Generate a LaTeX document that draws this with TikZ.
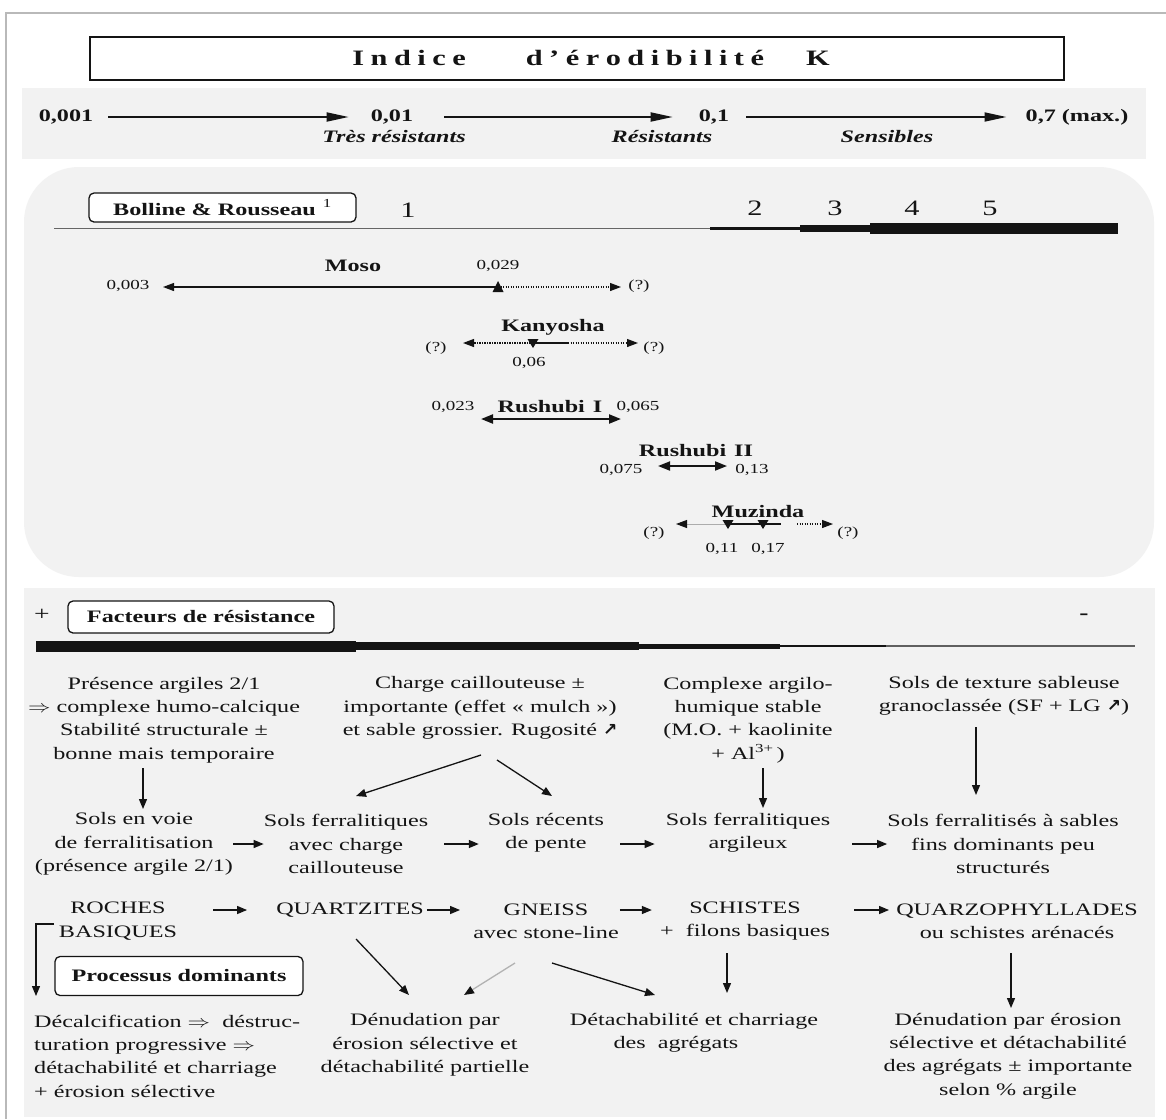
\documentclass[tikz,border=0pt]{standalone}
\usepackage{fontspec}
\usepackage{graphicx}
\setmainfont{Liberation Serif}[FakeStretch=1.38]
\newfontfamily\symf{DejaVu Sans}
\usetikzlibrary{arrows.meta}
\definecolor{panel}{HTML}{F2F2F2}
\definecolor{ink}{HTML}{141414}
\newcommand{\lsp}{\hspace{6.5pt}}
\newcommand{\nea}{{\symf\bfseries\fontsize{17}{17}\selectfont ↗}}
\newcommand{\impl}{\scalebox{1.3}[1]{$\Rightarrow$}}
\begin{document}
\begin{tikzpicture}[x=1pt,y=-1pt,
  every node/.style={inner sep=0pt, text=ink},
  txt/.style={font=\fontsize{17.5}{23.3}\selectfont, align=center},
  lab/.style={font=\bfseries\fontsize{17.5}{20}\selectfont},
  num/.style={font=\fontsize{13.8}{16}\selectfont},
  sc/.style={font=\bfseries\fontsize{17.5}{20}\selectfont},
  scit/.style={font=\bfseries\itshape\fontsize{17.5}{20}\selectfont},
  big/.style={font=\fontsize{22}{24}\selectfont},
  rbox/.style={draw=ink, rounded corners=5pt, line width=1.3pt, fill=white, font=\bfseries\fontsize{17.5}{20}\selectfont},
  arr/.style={draw=ink, line width=1.3pt, -{Triangle[length=10pt,width=8pt]}},
  sarr/.style={draw=ink, line width=1.2pt, -{Triangle[length=11pt,width=8pt]}},
  bigarr/.style={draw=ink, line width=1.8pt, -{Triangle[length=22pt,width=9pt]}},
  dots/.style={dash pattern=on 1.2pt off 1.3pt},
  darr/.style={draw=ink, {Triangle[length=12pt,width=9pt]}-{Triangle[length=12pt,width=9pt]}},
  seg/.style={draw=ink, line cap=butt}
]
\useasboundingbox (0,0) rectangle (1166,1119);
\fill[white] (0,0) rectangle (1166,1119);
\draw[gray!55, line width=1.3pt] (6,1119) -- (6,13) -- (1166,13);
\fill[panel] (22,88) rectangle (1146,159);
\fill[panel, rounded corners=55pt] (24,167) rectangle (1154,577);
\fill[panel] (24,588) rectangle (1155,1117);

% ---------- title ----------
\node[draw=ink, line width=2.3pt, minimum width=974pt, minimum height=43pt] (titlebox) at (577,58.5) {};
\node[font=\bfseries\fontsize{22}{24}\selectfont] (title) at (591,58)
  {I\lsp n\lsp d\lsp i\lsp c\lsp e\hspace{60pt}d\lsp ’\lsp é\lsp r\lsp o\lsp d\lsp i\lsp b\lsp i\lsp l\lsp i\lsp t\lsp é\hspace{42pt}K};

% ---------- scale ----------
\node[sc] (k1) at (66,117) {0,001};
\node[sc] (k2) at (392,117) {0,01};
\node[sc] (k3) at (714,117) {0,1};
\node[sc] (k4) at (1077,117) {0,7 (max.)};
\draw[bigarr, shorten <=15pt, shorten >=22pt] (k1) -- (k2);
\draw[bigarr, shorten <=31pt, shorten >=26pt] (k2) -- (k3);
\draw[bigarr, shorten <=17pt, shorten >=19pt] (k3) -- (k4);
\node[scit] (l1) at (394,137) {Très résistants};
\node[scit] (l2) at (662,137) {Résistants};
\node[scit] (l3) at (887,137) {Sensibles};

% ---------- Bolline & Rousseau ----------
\node[rbox, minimum width=267pt, minimum height=29pt] (br) at (222.5,207.5) {Bolline \& Rousseau\hspace{7pt}\raisebox{2pt}{\textsuperscript{\mdseries 1}}};
\node[big] (c1) at (408,210) {1};
\node[big] (c2) at (755,208) {2};
\node[big] (c3) at (835,208) {3};
\node[big] (c4) at (912,208) {4};
\node[big] (c5) at (990,208) {5};
\coordinate (s0) at (54,228);
\coordinate (s1) at (710,228);
\coordinate (s2) at (800,228);
\coordinate (s3) at (870,228);
\coordinate (s4) at (1118,228);
\draw[seg, draw=gray!80!black, line width=1pt] (s0) -- (s1);
\draw[seg, line width=3pt] (s1) -- (s2);
\draw[seg, line width=7pt] (s2) -- (s3);
\draw[seg, line width=11pt] (s3) -- (s4);

% Moso
\node[lab] (moso) at (353,266) {Moso};
\node[num] (m029) at (498,266) {0,029};
\node[num] (m003) at (128,286) {0,003};
\node[num] (mq) at (639,286) {(?)};
\coordinate (mk) at (498,287);
\coordinate (ml) at (163,287);
\coordinate (mr) at (621,287);
\draw[sarr] (mk) -- (ml);
\draw[sarr, dots] (mk) -- (mr);
\fill[ink] (492.5,292) -- (503.5,292) -- (498,281) -- cycle;

% Kanyosha
\node[lab] (kan) at (553,327) {Kanyosha};
\node[num] (kq1) at (436,348) {(?)};
\node[num] (kq2) at (654,348) {(?)};
\node[num] (k06) at (529,363) {0,06};
\coordinate (kk) at (533,343);
\coordinate (kl) at (463,343);
\coordinate (km) at (568,343);
\coordinate (kr) at (638,343);
\draw[sarr, dots] (kk) -- (kl);
\draw[draw=ink, line width=1.6pt] (kk) -- (km);
\draw[sarr, dots] (km) -- (kr);
\fill[ink] (527.5,339) -- (538.5,339) -- (533,348) -- cycle;

% Rushubi I
\node[lab] (r1) at (550,407) {Rushubi\hspace{8pt}I};
\node[num] (r1a) at (453,407) {0,023};
\node[num] (r1b) at (638,407) {0,065};
\coordinate (r1l) at (481,419);
\coordinate (r1r) at (621,419);
\draw[darr, line width=2.2pt] (r1l) -- (r1r);

% Rushubi II
\node[lab] (r2) at (696,451) {Rushubi\hspace{8pt}II};
\node[num] (r2a) at (621,470) {0,075};
\node[num] (r2b) at (752,470) {0,13};
\coordinate (r2l) at (658,466);
\coordinate (r2r) at (727,466);
\draw[darr, line width=1.8pt] (r2l) -- (r2r);

% Muzinda
\node[lab] (muz) at (758,512) {Muzinda};
\node[num] (zq1) at (654,533) {(?)};
\node[num] (zq2) at (848,533) {(?)};
\node[num] (z11) at (722,549) {0,11};
\node[num] (z17) at (768,549) {0,17};
\coordinate (zl) at (676,524);
\coordinate (za) at (728,524);
\coordinate (zb) at (781,524);
\coordinate (zc) at (797,524);
\coordinate (zr) at (833,524);
\draw[draw=gray!65, line width=1pt, -{Triangle[length=11pt,width=8pt,color=ink]}] (za) -- (zl);
\draw[draw=ink, line width=2pt] (za) -- (zb);
\draw[sarr, dots] (zc) -- (zr);
\fill[ink] (722.5,520) -- (733.5,520) -- (728,529) -- cycle;
\fill[ink] (757.5,520) -- (768.5,520) -- (763,529) -- cycle;

% ---------- Facteurs de resistance ----------
\node[font=\fontsize{20}{20}\selectfont] (plus) at (42,615) {+};
\node[rbox, minimum width=266pt, minimum height=32pt] (fac) at (201,617) {Facteurs de résistance};
\node[font=\bfseries\fontsize{20}{20}\selectfont] (minus) at (1084,617) {-};
\coordinate (f0) at (36,646);
\coordinate (f1) at (356,646);
\coordinate (f2) at (639,646);
\coordinate (f3) at (780,646);
\coordinate (f4) at (886,646);
\coordinate (f5) at (1135,646);
\draw[seg, line width=11pt] (f0) -- (f1);
\draw[seg, line width=8pt] (f1) -- (f2);
\draw[seg, line width=5pt] (f2) -- (f3);
\draw[seg, line width=2.5pt] (f3) -- (f4);
\draw[seg, draw=gray!75!black, line width=1.2pt] (f4) -- (f5);

% row 1
\node[txt] (A) at (164,720) {Présence argiles 2/1\\\impl{} complexe humo-calcique\\Stabilité structurale ±\\bonne mais temporaire};
\node[txt] (B) at (480,708) {Charge caillouteuse ±\\importante (effet «~mulch~»)\\et sable grossier. Rugosité \nea};
\node[txt] (C) at (748,720) {Complexe argilo-\\humique stable\\(M.O. + kaolinite\\+ Al\textsuperscript{3+}\,)};
\node[txt] (D) at (1004,696) {Sols de texture sableuse\\granoclassée (SF + LG \nea)};

% row 2
\node[txt] (E) at (134,844) {Sols en voie\\de ferralitisation\\(présence argile 2/1)};
\node[txt] (F) at (346,844) {Sols ferralitiques\\avec charge\\caillouteuse};
\node[txt] (G) at (546,833) {Sols récents\\de pente};
\node[txt] (H) at (748,833) {Sols ferralitiques\\argileux};
\node[txt] (I) at (1003,844) {Sols ferralitisés à sables\\fins dominants peu\\structurés};

\coordinate (ae1) at (143,768);
\coordinate (ae2) at (143,809);
\draw[arr] (ae1) -- (ae2);
\coordinate (bf1) at (481,755);
\coordinate (bf2) at (356,796);
\draw[arr] (bf1) -- (bf2);
\coordinate (bg1) at (497,760);
\coordinate (bg2) at (552,796);
\draw[arr] (bg1) -- (bg2);
\coordinate (ch1) at (763,768);
\coordinate (ch2) at (763,808);
\draw[arr] (ch1) -- (ch2);
\coordinate (di1) at (976,727);
\coordinate (di2) at (976,795);
\draw[arr] (di1) -- (di2);

\draw[arr] (E.east) -- (F.west);
\draw[arr, shorten <=16pt, shorten >=9pt] (F.east) -- (F.east -| G.west);
\draw[arr, shorten <=16pt, shorten >=11pt] (G.east |- F) -- (H.west |- F);
\draw[arr, shorten <=22pt] (H.east |- I) -- (I.west);

% row 3
\node[txt] (J) at (118,921) {ROCHES\\BASIQUES};
\node[txt] (K) at (350,910) {QUARTZITES};
\node[txt] (L) at (546,921) {GNEISS\\avec stone-line};
\node[txt] (M) at (745,921) {SCHISTES\\+\ \ filons basiques};
\node[txt] (N) at (1017,921) {QUARZOPHYLLADES\\ou schistes arénacés};

\draw[arr, shorten <=36pt, shorten >=29pt] (J.east |- K) -- (K.west);
\draw[arr, shorten <=3pt, shorten >=13pt] (K.east) -- (K.east -| L.west);
\draw[arr, shorten <=1pt, shorten >=8pt] (L.east |- K) -- (M.west |- K);
\draw[arr, shorten <=24pt, shorten >=7pt] (M.east |- K) -- (N.west |- K);

\node[rbox, minimum width=248pt, minimum height=39pt] (proc) at (179,976) {Processus dominants};
\coordinate (jb1) at (54,924);
\coordinate (jb2) at (36,924);
\coordinate (jb3) at (36,996);
\draw[arr] (jb1) -- (jb2) -- (jb3);

% row 4
\node[txt, align=left, anchor=west] (R) at (34,1056) {Décalcification \impl{}\ \ déstruc-\\turation progressive \impl\\détachabilité et charriage\\+ érosion sélective};
\node[txt] (O) at (425,1045) {Dénudation par\\érosion sélective et\\détachabilité partielle};
\node[txt] (P) at (694,1033) {Détachabilité et charriage\\des\ \ agrégats\hspace*{36pt}};
\node[txt] (Q) at (1008,1056) {Dénudation par érosion\\sélective et détachabilité\\des agrégats ± importante\\selon \% argile};

\coordinate (ko1) at (356,939);
\coordinate (ko2) at (409,995);
\draw[arr] (ko1) -- (ko2);
\coordinate (lo1) at (515,963);
\coordinate (lo2) at (464,995);
\draw[arr, draw=gray!60, -{Triangle[length=10pt,width=8pt,color=ink]}] (lo1) -- (lo2);
\coordinate (lp1) at (552,963);
\coordinate (lp2) at (655,995);
\draw[arr] (lp1) -- (lp2);
\coordinate (mp1) at (727,953);
\coordinate (mp2) at (727,993);
\draw[arr] (mp1) -- (mp2);
\coordinate (nq1) at (1011,953);
\coordinate (nq2) at (1011,1008);
\draw[arr] (nq1) -- (nq2);
\end{tikzpicture}
\end{document}
